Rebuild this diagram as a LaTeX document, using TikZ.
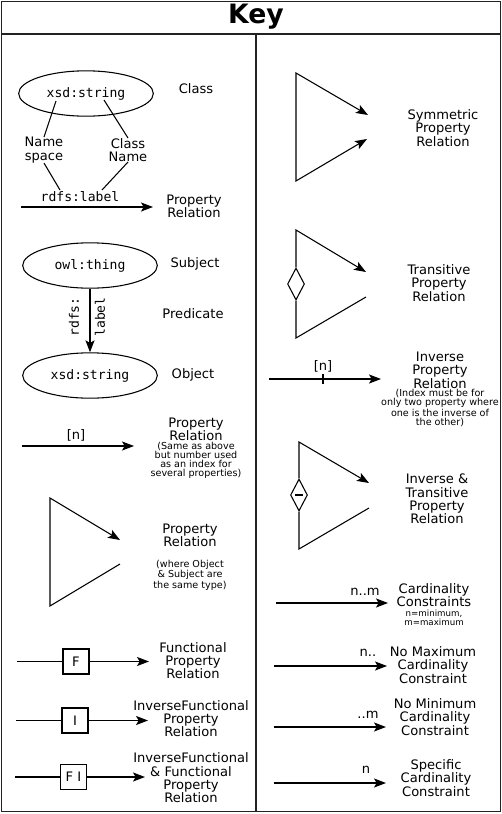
\documentclass[tikz,border=0pt]{standalone}
\usepackage{fontspec}
\setmainfont{DejaVu Sans}
\setmonofont{DejaVu Sans Mono}
\usepackage{tikz}
\usetikzlibrary{positioning, arrows.meta, shapes.geometric}
\definecolor{ink}{RGB}{0,0,0}
\definecolor{framegrey}{RGB}{34,34,34}
\newcommand{\keyfs}{\fontsize{9.8}{10}\selectfont}
\newcommand{\notefs}{\fontsize{7.2}{6.9}\selectfont}
\newcommand{\cardfs}{\fontsize{6.5}{6.8}\selectfont}

\begin{document}
\begin{tikzpicture}[x=0.75pt, y=-0.75pt,
    hdr/.style={font=\fontsize{20}{20}\selectfont\bfseries, text=ink},
    lbl/.style={font=\keyfs, align=center, inner sep=0pt, text=ink},
    note/.style={font=\notefs, align=center, inner sep=0pt, text=ink},
    code/.style={font=\keyfs\ttfamily, inner sep=0pt, text=ink},
    cls/.style={ellipse, draw=ink, line width=0.8pt, minimum width=101pt,
                minimum height=34pt, font=\keyfs\ttfamily},
    fbox/.style={draw=ink, line width=0.8pt, minimum width=19.5pt,
                 minimum height=18.75pt, inner sep=0pt, font=\keyfs},
    dia/.style={diamond, draw=ink, line width=0.8pt, minimum width=12.75pt,
                minimum height=24pt, inner sep=0pt},
    ln/.style={draw=ink, line width=0.8pt},
    ed/.style={ln, -{Stealth[length=9pt, width=6.8pt, inset=2pt]}},
    bd/.style={ln, {Stealth[length=9pt, width=6.8pt, inset=2pt]}-{Stealth[length=9pt, width=6.8pt, inset=2pt]}},
    rule/.style={draw=framegrey, line width=1.4pt}
  ]
  \useasboundingbox (0,0) rectangle (502,814);
  % ---------------- frame ----------------
  \draw[rule] (1.5,1.5) rectangle (500.5,811.5);
  \draw[rule] (1.5,34) -- (500.5,34);
  \draw[rule] (256,34) -- (256,811.5);
  \node[hdr] (key) at (256,17) {Key};

  % ---------------- class ----------------
  \node[cls] (cls) at (86,93.5) {xsd:string};
  \node[lbl] (clsl) at (196,89) {Class};
  \node[lbl] (ns) at (44,150) {Name\\space};
  \node[lbl] (cn) at (128,150) {Class\\Name};
  \node[code] (rl) at (80,197) {rdfs:label};
  \coordinate (nsa) at (56,101); \coordinate (cna) at (104,100);
  \coordinate (nsb) at (60,190); \coordinate (cnb) at (102,190);
  \draw[ln] (nsa) -- (ns.north); \draw[ln] (cna) -- (cn.north);
  \draw[ln] (ns.south) -- (nsb); \draw[ln] (cn.south) -- (cnb);
  \coordinate (p1s) at (21,207); \coordinate (p1e) at (153,207);
  \draw[ed] (p1s) -- (p1e);
  \node[lbl] (p1l) at (194,206.5) {Property\\Relation};

  % ---------------- subject / object ----------------
  \node[cls] (subj) at (90,265.5) {owl:thing};
  \node[lbl] (subjl) at (195,264) {Subject};
  \node[cls] (obj) at (90,375.5) {xsd:string};
  \node[lbl] (objl) at (193,375) {Object};
  \draw[ed] (subj) -- (obj);
  \node[code, rotate=90] (rdfs) at (74,317) {rdfs:};
  \node[code, rotate=90] (lab) at (100,317) {label};
  \node[lbl] (pred) at (193,314) {Predicate};

  % ---------------- indexed ----------------
  \node[lbl] (idx) at (76,435) {[n]};
  \coordinate (p2s) at (22,446); \coordinate (p2e) at (134,446);
  \draw[ed] (p2s) -- (p2e);
  \node[lbl] (p2l) at (196,429.5) {Property\\Relation};
  \node[note] (p2n) at (196,460.5) {(Same as above\\but number used\\as an index for\\several properties)};

  % ---------------- same type ----------------
  \coordinate (t1top) at (50,498); \coordinate (t1tip) at (120,540);
  \coordinate (t1bot) at (50,606); \coordinate (t1end) at (120,564);
  \draw[ed] (t1end) -- (t1bot) -- (t1top) -- (t1tip);
  \node[lbl] (p3l) at (190,535) {Property\\Relation};
  \node[note] (p3n) at (190,575) {(where Object\\\& Subject are\\the same type)};

  % ---------------- functional ----------------
  \node[fbox] (fb) at (76,661.5) {F};
  \coordinate (fs) at (17,661.5); \coordinate (fe) at (149,661.5);
  \draw[ln] (fs) -- (fb); \draw[ed] (fb) -- (fe);
  \node[lbl] (fl) at (193,660.5) {Functional\\Property\\Relation};

  \node[fbox] (ib) at (75,720.5) {I};
  \coordinate (is) at (16,720.5); \coordinate (ie) at (148,720.5);
  \draw[ln] (is) -- (ib); \draw[ed] (ib) -- (ie);
  \node[lbl] (il) at (191,718.5) {InverseFunctional\\Property\\Relation};

  \node[fbox] (fib) at (73.5,777) {F I};
  \coordinate (fis) at (15,777); \coordinate (fie) at (145,777);
  \draw[ln] (fis) -- (fib); \draw[ed] (fib) -- (fie);
  \node[lbl] (fil) at (191,778) {InverseFunctional\\\& Functional\\Property\\Relation};

  % ---------------- symmetric ----------------
  \coordinate (stop) at (296,73); \coordinate (stip) at (368,115);
  \coordinate (sbot) at (296,181); \coordinate (send) at (367,139);
  \draw[bd] (send) -- (sbot) -- (stop) -- (stip);
  \node[lbl] (sl) at (443,128) {Symmetric\\Property\\Relation};

  % ---------------- transitive ----------------
  \node[dia] (trd) at (296,284) {};
  \coordinate (trtop) at (296,230); \coordinate (trtip) at (366,272);
  \coordinate (trbot) at (296,338); \coordinate (trend) at (366,297);
  \draw[ln] (trd.south) -- (trbot) -- (trend);
  \draw[ed] (trd.north) -- (trtop) -- (trtip);
  \node[lbl] (trl) at (439,283) {Transitive\\Property\\Relation};

  % ---------------- inverse ----------------
  \node[lbl] (inn) at (323,366) {[n]};
  \coordinate (ins) at (269,379); \coordinate (ine) at (381,379);
  \coordinate (intk) at (323,379);
  \draw[ed] (ins) -- (ine);
  \draw[ln] ([yshift=3.4pt]intk) -- ([yshift=-3.4pt]intk);
  \node[lbl] (inl) at (440,370) {Inverse\\Property\\Relation};
  \node[note] (inno) at (440,408) {(Index must be for\\only two property where\\one is the inverse of\\the other)};

  % ---------------- inverse & transitive ----------------
  \node[dia] (itd) at (299,495) {};
  \draw[ln] ([xshift=-3pt]itd.center) -- ([xshift=3pt]itd.center);
  \coordinate (ittop) at (299,442); \coordinate (ittip) at (369,483);
  \coordinate (itbot) at (299,549); \coordinate (itend) at (369,508);
  \draw[ln] (itd.south) -- (itbot) -- (itend);
  \draw[ed] (itd.north) -- (ittop) -- (ittip);
  \node[lbl] (itl) at (437,499) {Inverse \&\\Transitive\\Property\\Relation};

  % ---------------- cardinality ----------------
  \node[lbl] (c1n) at (365,592) {n..m};
  \coordinate (c1s) at (276,603); \coordinate (c1e) at (388,603);
  \draw[ed] (c1s) -- (c1e);
  \node[lbl] (c1l) at (434,595) {Cardinality\\Constraints};
  \node[note, font=\cardfs] (c1no) at (434,617.5) {n=minimum,\\m=maximum};

  \node[lbl] (c2n) at (368,653) {n..};
  \coordinate (c2s) at (274,666); \coordinate (c2e) at (387,666);
  \draw[ed] (c2s) -- (c2e);
  \node[lbl] (c2l) at (433,665) {No Maximum\\Cardinality\\Constraint};

  \node[lbl] (c3n) at (368,715) {..m};
  \coordinate (c3s) at (274,727); \coordinate (c3e) at (386,727);
  \draw[ed] (c3s) -- (c3e);
  \node[lbl] (c3l) at (435,717) {No Minimum\\Cardinality\\Constraint};

  \node[lbl] (c4n) at (366,770) {n};
  \coordinate (c4s) at (274,783); \coordinate (c4e) at (386,783);
  \draw[ed] (c4s) -- (c4e);
  \node[lbl] (c4l) at (436,778) {Specific\\Cardinality\\Constraint};
\end{tikzpicture}
\end{document}
